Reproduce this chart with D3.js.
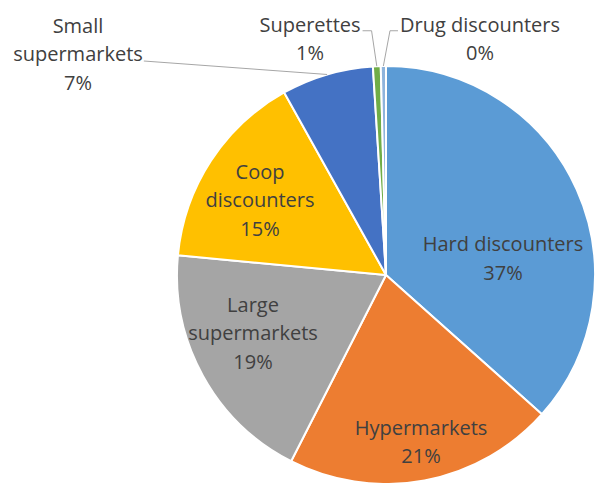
<!DOCTYPE html>
<html>
<head>
<meta charset="utf-8">
<script src="https://cdn.jsdelivr.net/npm/d3@7"></script>
<style>
  html, body { margin: 0; padding: 0; background: #fff; }
  svg { display: block; }
  text { font-family: "Open Sans", "Noto Sans", sans-serif; fill: #404040; }
</style>
</head>
<body>
<svg id="chart" width="595" height="483"></svg>
<script>
// Market share by store format (percent)
const categories = ["Hard discounters", "Hypermarkets", "Large supermarkets", "Coop discounters",
                    "Small supermarkets", "Superettes", "Drug discounters"];
const shares = [36.6, 20.9, 19.0, 15.4, 7.1, 0.6, 0.4];
const labelLines = [["Hard discounters"], ["Hypermarkets"], ["Large", "supermarkets"],
                    ["Coop", "discounters"], ["Small", "supermarkets"], ["Superettes"], ["Drug discounters"]];

const colors = ["#5b9bd5", "#ed7d31", "#a5a5a5", "#ffc000", "#4472c4", "#70ad47", "#8fb4dc"];

// Label block centres; the last three sit outside with leader lines
const layout = {
  cx: 386, cy: 275, r: 209, lineGap: 28.5, fontSize: 20,
  labels: [
    { x: 503, y: 258.5 },
    { x: 421, y: 442 },
    { x: 253, y: 333 },
    { x: 260, y: 200 },
    { x: 78,  y: 54,  leader: "right" },
    { x: 310, y: 39,  leader: "right" },
    { x: 480, y: 39,  leader: "left" }
  ]
};

const data = categories.map((c, i) => ({ name: c, value: shares[i], lines: labelLines[i], i }));
const total = d3.sum(shares);

const svg = d3.select("#chart");
const g = svg.append("g").attr("transform", `translate(${layout.cx},${layout.cy})`);

const pie = d3.pie().value(d => d.value).sort(null);
const arcs = pie(data);
const arc = d3.arc().innerRadius(0).outerRadius(layout.r);
const rim = d3.arc().innerRadius(layout.r).outerRadius(layout.r);

g.selectAll("path.slice")
  .data(arcs)
  .join("path")
  .attr("class", "slice")
  .attr("d", arc)
  .attr("fill", d => colors[d.data.i])
  .attr("stroke", "#fff")
  .attr("stroke-width", 2)
  .attr("stroke-linejoin", "round");

const pct = d => Math.round(d.value / total * 100) + "%";

// leader lines for the outside labels
const measurer = svg.append("text").attr("font-size", layout.fontSize).attr("visibility", "hidden");
function textWidth(s) { measurer.text(s); return measurer.node().getComputedTextLength(); }

arcs.forEach(a => {
  const L = layout.labels[a.data.i];
  if (!L.leader) return;
  const [ex, ey] = rim.centroid(a);
  const end = [layout.cx + ex, layout.cy + ey];
  const n = a.data.lines.length + 1;
  const top = L.y - (n - 1) * layout.lineGap / 2;
  const lastLineY = top + (a.data.lines.length - 1) * layout.lineGap;
  const w = textWidth(a.data.lines[a.data.lines.length - 1]);
  let pts;
  if (a.data.i === 4) {
    const sx = L.x + w / 2 + 1;
    pts = [[sx, lastLineY + 7], end];
  } else if (L.leader === "right") {
    const sx = L.x + textWidth(a.data.lines[0]) / 2 + 2;
    pts = [[sx, top + 6], [sx + 9, top + 6], end];
  } else {
    const sx = L.x - textWidth(a.data.lines[0]) / 2 - 2;
    pts = [[sx, top + 6], [sx - 8, top + 6], end];
  }
  svg.append("path")
    .attr("d", d3.line()(pts))
    .attr("fill", "none")
    .attr("stroke", "#a6a6a6")
    .attr("stroke-width", 1);
});
measurer.remove();

// slice labels: name lines followed by the rounded percentage
arcs.forEach(a => {
  const L = layout.labels[a.data.i];
  const lines = a.data.lines.concat([pct(a.data)]);
  const top = L.y - (lines.length - 1) * layout.lineGap / 2;
  const t = svg.append("text")
    .attr("text-anchor", "middle")
    .attr("font-size", layout.fontSize);
  lines.forEach((s, k) => {
    t.append("tspan")
      .attr("x", L.x)
      .attr("y", top + k * layout.lineGap)
      .attr("dy", "0.36em")
      .text(s);
  });
});
</script>
</body>
</html>
